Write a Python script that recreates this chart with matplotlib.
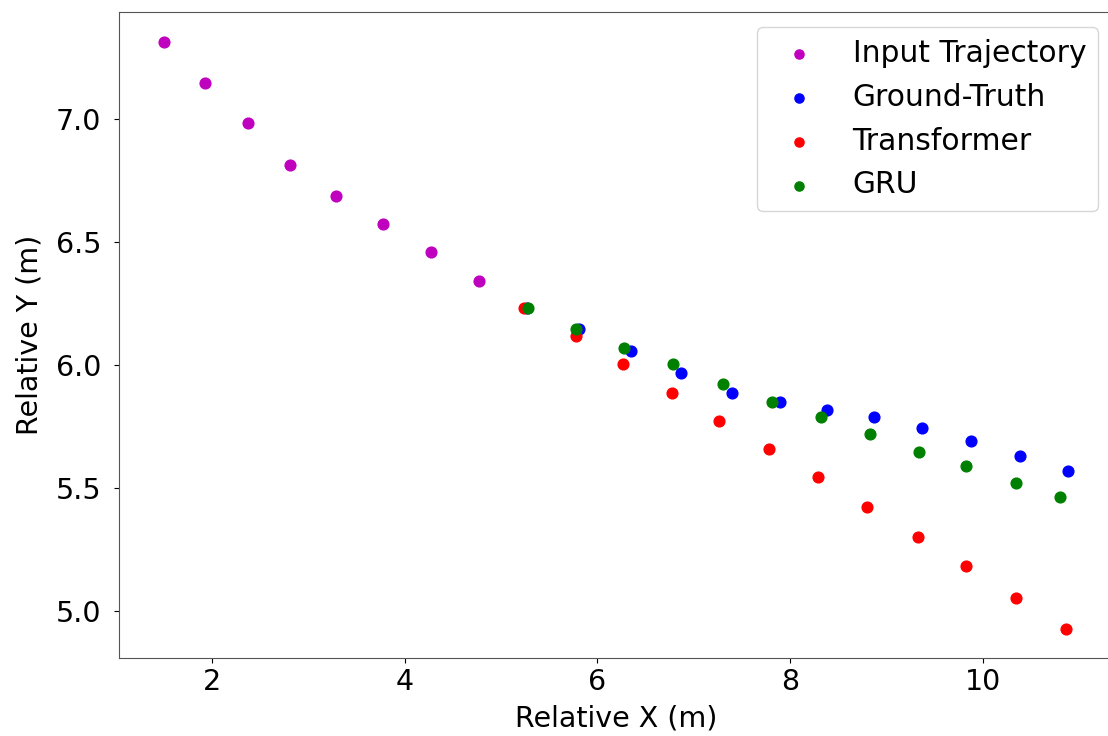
import matplotlib
matplotlib.use("Agg")
import matplotlib.pyplot as plt

input_x = [1.50, 1.927, 2.377, 2.806, 3.286, 3.777, 4.275, 4.770]
input_y = [7.313, 7.143, 6.980, 6.812, 6.686, 6.570, 6.457, 6.340]

gt_x = [5.268, 5.810, 6.347, 6.865, 7.391, 7.892, 8.380, 8.874, 9.368, 9.873, 10.382, 10.880]
gt_y = [6.230, 6.146, 6.056, 5.965, 5.886, 5.850, 5.814, 5.785, 5.741, 5.688, 5.627, 5.568]

tf_x = [5.240, 5.776, 6.264, 6.772, 7.262, 7.775, 8.289, 8.798, 9.324, 9.829, 10.340, 10.862]
tf_y = [6.230, 6.115, 6.001, 5.886, 5.772, 5.657, 5.542, 5.422, 5.301, 5.180, 5.053, 4.927]

gru_x = [5.278, 5.776, 6.277, 6.785, 7.298, 7.809, 8.317, 8.826, 9.334, 9.829, 10.340, 10.804]
gru_y = [6.230, 6.146, 6.068, 6.001, 5.923, 5.850, 5.789, 5.718, 5.645, 5.589, 5.519, 5.463]

fig = plt.figure(figsize=(11.08, 7.36), dpi=100)
# axes extends slightly past the right edge of the image, as in the reference
ax = fig.add_axes([0.107, 0.106, 0.8975, 0.8775])

s = 60
ax.scatter(input_x, input_y, c='m', s=s, label='Input Trajectory')
ax.scatter(gt_x, gt_y, c='b', s=s, label='Ground-Truth')
ax.scatter(tf_x, tf_y, c='r', s=s, label='Transformer')
ax.scatter(gru_x, gru_y, c='g', s=s, label='GRU')

ax.set_xlabel('Relative X (m)', fontsize=20.5, labelpad=6.5)
ax.set_ylabel('Relative Y (m)', fontsize=20.5, labelpad=9)
ax.tick_params(labelsize=20.5)
ax.tick_params(axis='y', pad=9)
ax.legend(fontsize=21.4, markerscale=0.85, loc='upper right')
for sp in ax.spines.values():
    sp.set_color('#555555')

fig.savefig('out.png', dpi=100)
